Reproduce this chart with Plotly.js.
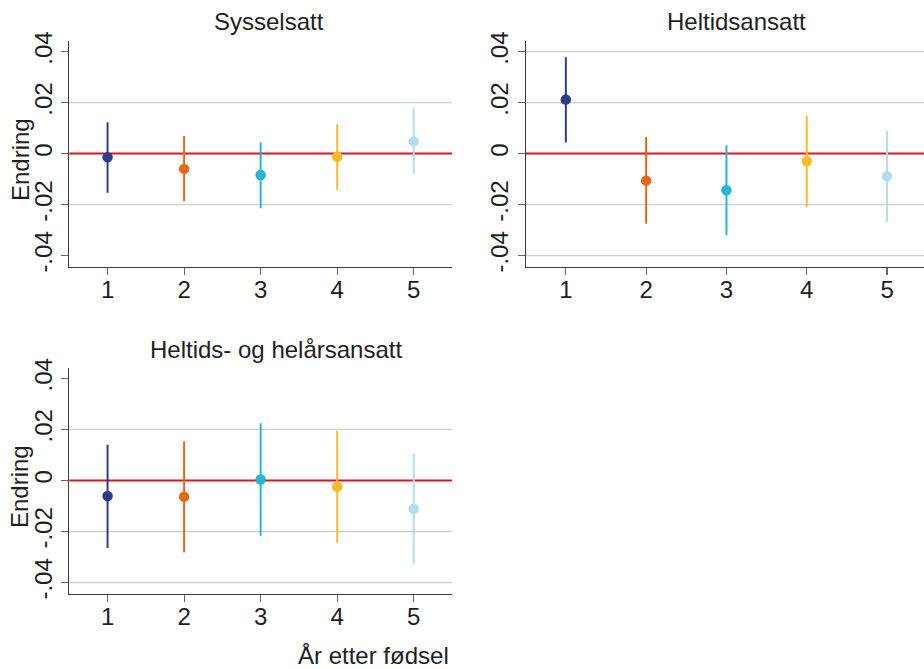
<!DOCTYPE html>
<html>
<head>
<meta charset="utf-8">
<script src="https://cdn.plot.ly/plotly-3.0.1.min.js"></script>
<style>
  html, body { margin: 0; padding: 0; background: #fff; overflow: hidden; }
  #chart { width: 924px; height: 669px; }
</style>
</head>
<body>
<div id="chart"></div>
<script>
// Years after birth
const years = [1, 2, 3, 4, 5];
const yearColors = ['#2c3e8a', '#e4681a', '#23b9cf', '#fdba28', '#b2dee9'];

// Sysselsatt: point estimate and 95% interval
const sysEst = [-0.0014, -0.0060, -0.0084, -0.0012, 0.0048];
const sysLo  = [-0.0154, -0.0187, -0.0214, -0.0143, -0.0081];
const sysHi  = [0.0123, 0.0069, 0.0044, 0.0115, 0.0178];

// Heltidsansatt
const heltEst = [0.0212, -0.0106, -0.0144, -0.0030, -0.0089];
const heltLo  = [0.0044, -0.0275, -0.0319, -0.0209, -0.0268];
const heltHi  = [0.0378, 0.0065, 0.0033, 0.0148, 0.0089];

// Heltids- og helårsansatt
const helaarEst = [-0.0061, -0.0064, 0.0004, -0.0025, -0.0111];
const helaarLo  = [-0.0265, -0.0282, -0.0217, -0.0244, -0.0329];
const helaarHi  = [0.0140, 0.0154, 0.0224, 0.0195, 0.0105];

const yTickVals = [-0.04, -0.02, 0, 0.02, 0.04];
const yTickText = ['-.04', '-.02', '0', '.02', '.04'];
const xTickText = ['1', '2', '3', '4', '5'];

const panelTitles = ['Sysselsatt', 'Heltidsansatt', 'Heltids- og helårsansatt'];
const yTitle = 'Endring';
const xTitle = 'År etter fødsel';

const W = 924, H = 669;
const FONT = '"Liberation Sans", Arial, Helvetica, sans-serif';
const FS = 24;
const TXT = '#1e1e1e';

// pixel -> paper helpers
const px = v => v / W;
const py = v => 1 - v / H;

const panels = [
  { est: sysEst, lo: sysLo, hi: sysHi, grid: [-0.02, 0.02],
    box: [69.3, 452, 41, 267], xr: [0.5, 5.5], title: [269, 22], ytitle: [20, 160] },
  { est: heltEst, lo: heltLo, hi: heltHi, grid: [-0.04, -0.02, 0.02, 0.04],
    box: [525.7, 924, 41, 267], xr: [0.5, 5.46], title: [736, 22], ytitle: null },
  { est: helaarEst, lo: helaarLo, hi: helaarHi, grid: [-0.04, -0.02, 0.02],
    box: [69.3, 452, 367.7, 594], xr: [0.5, 5.5], title: [276, 349], ytitle: [20, 487] }
];

const traces = [];
const shapes = [];
const annotations = [];
const layout = {
  width: W, height: H,
  margin: { l: 0, r: 0, t: 0, b: 0 },
  paper_bgcolor: '#ffffff',
  plot_bgcolor: 'rgba(0,0,0,0)',
  showlegend: false,
  font: { family: FONT, size: FS, color: TXT }
};

panels.forEach((p, i) => {
  const n = i + 1;
  const xa = n === 1 ? 'x' : 'x' + n;
  const ya = n === 1 ? 'y' : 'y' + n;
  const xKey = n === 1 ? 'xaxis' : 'xaxis' + n;
  const yKey = n === 1 ? 'yaxis' : 'yaxis' + n;
  const [l, r, t, b] = p.box;

  layout[xKey] = {
    domain: [px(l), px(r)], anchor: ya, range: p.xr,
    tickvals: years, ticktext: xTickText,
    showgrid: false, zeroline: false,
    showline: true, linecolor: '#3a3a3a', linewidth: 1.2,
    ticks: 'outside', ticklen: 7, tickwidth: 1.2, tickcolor: '#666',
    ticklabelstandoff: -6,
    tickfont: { family: FONT, size: FS, color: TXT }, fixedrange: true
  };
  layout[yKey] = {
    domain: [py(b), py(t)], anchor: xa, range: [-0.0445, 0.0442],
    tickvals: yTickVals, ticktext: yTickText, tickangle: -90,
    showgrid: false, zeroline: false,
    showline: true, linecolor: '#3a3a3a', linewidth: 1.2,
    ticks: 'outside', ticklen: 7, tickwidth: 1.2, tickcolor: '#666',
    tickfont: { family: FONT, size: FS, color: TXT }, fixedrange: true
  };

  // light horizontal gridlines
  p.grid.forEach(g => shapes.push({
    type: 'line', xref: xa + ' domain', yref: ya, x0: 0, x1: 1, y0: g, y1: g,
    line: { color: '#cfcfcf', width: 1.3 }, layer: 'below'
  }));
  // red reference line at zero
  shapes.push({
    type: 'line', xref: xa + ' domain', yref: ya, x0: 0, x1: 1, y0: 0, y1: 0,
    line: { color: '#e0141e', width: 2 }, layer: 'below'
  });

  // one trace per year so each estimate carries its own colour
  years.forEach((yr, k) => {
    traces.push({
      type: 'scatter', mode: 'markers', xaxis: xa, yaxis: ya,
      x: [yr], y: [p.est[k]],
      marker: { color: yearColors[k], size: 10.5 },
      error_y: {
        type: 'data', symmetric: false,
        array: [p.hi[k] - p.est[k]], arrayminus: [p.est[k] - p.lo[k]],
        color: yearColors[k], thickness: 2, width: 0
      },
      hoverinfo: 'x+y'
    });
  });

  annotations.push({
    text: panelTitles[i], xref: 'paper', yref: 'paper',
    x: px(p.title[0]), y: py(p.title[1]), xanchor: 'center', yanchor: 'middle',
    showarrow: false, font: { family: FONT, size: FS, color: TXT }
  });
  if (p.ytitle) {
    annotations.push({
      text: yTitle, xref: 'paper', yref: 'paper', textangle: -90,
      x: px(p.ytitle[0]), y: py(p.ytitle[1]), xanchor: 'center', yanchor: 'middle',
      showarrow: false, font: { family: FONT, size: FS, color: TXT }
    });
  }
});

annotations.push({
  text: xTitle, xref: 'paper', yref: 'paper',
  x: px(451), y: py(655), xanchor: 'right', yanchor: 'middle',
  showarrow: false, font: { family: FONT, size: FS, color: TXT }
});

layout.shapes = shapes;
layout.annotations = annotations;

Plotly.newPlot('chart', traces, layout, { displayModeBar: false, staticPlot: true });
</script>
</body>
</html>
